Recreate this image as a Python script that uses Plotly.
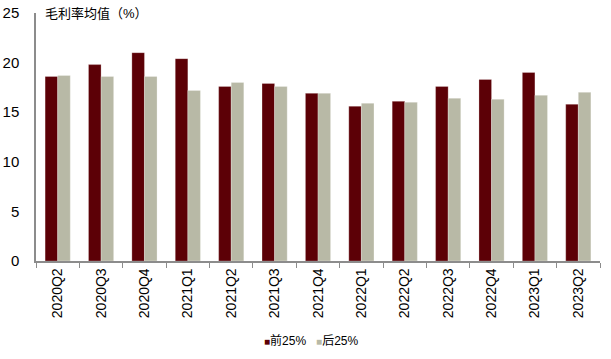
import plotly.graph_objects as go

categories = ["2020Q2", "2020Q3", "2020Q4", "2021Q1", "2021Q2", "2021Q3", "2021Q4",
              "2022Q1", "2022Q2", "2022Q3", "2022Q4", "2023Q1", "2023Q2"]
top25 = [18.6, 19.8, 21.0, 20.4, 17.6, 17.9, 16.9, 15.6, 16.1, 17.6, 18.3, 19.0, 15.8]
bottom25 = [18.7, 18.6, 18.6, 17.2, 18.0, 17.6, 16.9, 15.9, 16.0, 16.4, 16.3, 16.7, 17.0]
series_names = ["前25%", "后25%"]
series_colors = ["#5C0006", "#B8B9A6"]
title_text = "毛利率均值（%）"

FONT = "Liberation Sans, Arial, Noto Sans CJK SC, sans-serif"

fig = go.Figure()
for name, vals, col in zip(series_names, [top25, bottom25], series_colors):
    fig.add_trace(go.Bar(x=categories, y=vals, name=name, showlegend=False,
                         marker=dict(color=col, line=dict(color="rgba(255,255,255,0.5)", width=0.5))))

fig.update_layout(
    width=611, height=359,
    margin=dict(l=36, r=11, t=13, b=98, autoexpand=False),
    paper_bgcolor="white", plot_bgcolor="white",
    barmode="group", bargap=0.42, bargroupgap=0,
    font=dict(family=FONT, color="#000000", size=13),
    showlegend=False,
    xaxis=dict(showline=True, linecolor="#8C8C8C", linewidth=1.5, ticks="outside",
               tickcolor="#8C8C8C", ticklen=5, tickangle=-90, tickson="boundaries",
               tickfont=dict(size=14), showgrid=False, automargin=False),
    yaxis=dict(range=[0, 25], dtick=5, showline=True, linecolor="#8C8C8C", linewidth=1.5,
               ticks="", showgrid=False, zeroline=False, tickfont=dict(size=15),
               ticklabelstandoff=12, automargin=False),
)

fig.add_annotation(text=title_text, xref="paper", yref="paper", x=0.013, y=1.0,
                   xanchor="left", yanchor="middle", showarrow=False,
                   font=dict(size=13, family=FONT, color="#000000"))

legend_parts = []
for name, col in zip(series_names, series_colors):
    legend_parts.append(f"<span style='color:{col};font-size:10px'>■</span>{name}")
fig.add_annotation(text="   ".join(legend_parts), xref="paper", yref="paper",
                   x=0.488, y=-0.322, xanchor="center", yanchor="middle", showarrow=False,
                   font=dict(size=12, family=FONT, color="#000000"))

fig.write_html("out.html", config={"displayModeBar": False},
               post_script="document.body.style.margin='0';")
